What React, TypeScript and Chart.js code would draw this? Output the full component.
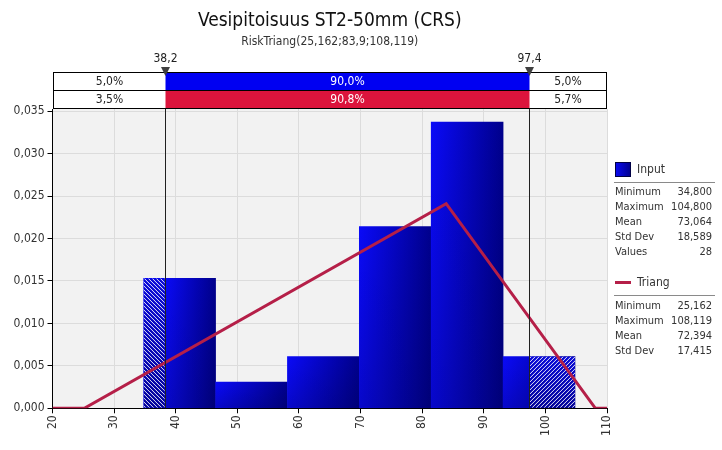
import React, { useEffect, useRef } from 'react';
import { Chart, registerables } from 'chart.js';

Chart.register(...registerables);

// ---- data ----
const binEdges = [34.8, 46.467, 58.133, 69.8, 81.467, 93.133, 104.8];
const binDensities = [0.0153, 0.0031, 0.0061, 0.0214, 0.0337, 0.0061];
const triangX = [20, 25.162, 83.9, 108.119, 110];
const triangY = [0, 0, 0.0241, 0, 0];
const markerValues = [38.2, 97.4];
const markerLabels = ['38,2', '97,4'];
const inputBand = ['5,0%', '90,0%', '5,0%'];
const triangBand = ['3,5%', '90,8%', '5,7%'];
const inputStatLabels = ['Minimum', 'Maximum', 'Mean', 'Std Dev', 'Values'];
const inputStatValues = ['34,800', '104,800', '73,064', '18,589', '28'];
const triangStatLabels = ['Minimum', 'Maximum', 'Mean', 'Std Dev'];
const triangStatValues = ['25,162', '108,119', '72,394', '17,415'];
const xMin = 20;
const xMax = 110;
const xStep = 10;
const yMax = 0.03525;
const yStep = 0.005;
const titleText = 'Vesipitoisuus ST2-50mm (CRS)';
const subtitleText = 'RiskTriang(25,162;83,9;108,119)';

// ---- styles ----
const FONT = "'DejaVu Sans Condensed', 'DejaVu Sans', sans-serif";
const TEXT = '#333333';
const BAND_BLUE = '#0000f2';
const BAND_RED = '#dc143c';
const LINE_RED = '#b51f48';
const PLOT_BG = '#f2f2f2';
const GRID = '#dcdcdc';

const binCenters = binDensities.map((_, i) => (binEdges[i] + binEdges[i + 1]) / 2);

function hatch(ctx: CanvasRenderingContext2D, x0: number, x1: number, y0: number, y1: number, dir: number) {
  ctx.save();
  ctx.beginPath();
  ctx.rect(x0, y0, x1 - x0, y1 - y0);
  ctx.clip();
  const g = ctx.createLinearGradient(0, y0, 0, y1);
  g.addColorStop(0, '#0808d8');
  g.addColorStop(1, '#00009a');
  ctx.fillStyle = g;
  ctx.fillRect(x0, y0, x1 - x0, y1 - y0);
  ctx.strokeStyle = 'rgba(255,255,255,0.9)';
  ctx.lineWidth = 1;
  const h = y1 - y0;
  const step = 4;
  for (let s = x0 - h - 10; s < x1 + h + 10; s += step) {
    ctx.beginPath();
    if (dir > 0) {
      ctx.moveTo(s, y1);
      ctx.lineTo(s + h, y0);
    } else {
      ctx.moveTo(s, y0);
      ctx.lineTo(s + h, y1);
    }
    ctx.stroke();
  }
  ctx.restore();
}

const decoPlugin = {
  id: 'deco',
  beforeDraw(chart: any) {
    const { ctx, chartArea: a } = chart;
    ctx.save();
    ctx.fillStyle = '#ffffff';
    ctx.fillRect(0, 0, chart.width, chart.height);
    ctx.fillStyle = PLOT_BG;
    ctx.fillRect(a.left, a.top, a.right - a.left, a.bottom - a.top);
    ctx.restore();
  },
  afterDatasetDraw(chart: any, args: any) {
    if (args.index !== 0) return;
    const { ctx } = chart;
    const meta = chart.getDatasetMeta(0);
    const xb = chart.scales.xb;
    ctx.save();
    meta.data.forEach((el: any) => {
      const p = el.getProps(['x', 'y', 'base', 'width'], true);
      const l = p.x - p.width / 2;
      const g = ctx.createLinearGradient(0, p.y, 0, p.base);
      g.addColorStop(0, 'rgba(0,0,40,0)');
      g.addColorStop(1, 'rgba(0,0,40,0.22)');
      ctx.fillStyle = g;
      ctx.fillRect(l, p.y, p.width, p.base - p.y);
    });
    const first = meta.data[0].getProps(['y', 'base'], true);
    hatch(ctx, xb.getPixelForValue(binEdges[0]), xb.getPixelForValue(markerValues[0]), first.y, first.base, -1);
    const lastIdx = binDensities.length - 1;
    const last = meta.data[lastIdx].getProps(['y', 'base'], true);
    hatch(ctx, xb.getPixelForValue(markerValues[1]), xb.getPixelForValue(binEdges[lastIdx + 1]), last.y, last.base, 1);
    ctx.restore();
  },
  afterDatasetsDraw(chart: any) {
    const { ctx, chartArea: a } = chart;
    const xs = chart.scales.x;
    ctx.save();
    ctx.strokeStyle = '#202020';
    ctx.lineWidth = 1;
    markerValues.forEach((v) => {
      const px = Math.round(xs.getPixelForValue(v)) + 0.5;
      ctx.beginPath();
      ctx.moveTo(px, 72.5);
      ctx.lineTo(px, a.bottom);
      ctx.stroke();
    });
    ctx.restore();
  },
  afterDraw(chart: any) {
    const { ctx, chartArea: a } = chart;
    const xs = chart.scales.x;
    const cx = (a.left + a.right) / 2;
    ctx.save();
    ctx.textAlign = 'center';
    ctx.textBaseline = 'middle';
    ctx.fillStyle = '#111';
    ctx.font = `19px ${FONT}`;
    ctx.fillText(titleText, cx, 21);
    ctx.fillStyle = TEXT;
    ctx.font = `12px ${FONT}`;
    ctx.fillText(subtitleText, cx, 42);

    // band
    const m0 = Math.round(xs.getPixelForValue(markerValues[0])) + 0.5;
    const m1 = Math.round(xs.getPixelForValue(markerValues[1])) + 0.5;
    const L = Math.round(a.left) + 0.5;
    const R = Math.round(a.right) - 0.5;
    const rows = [
      { y0: 72.5, y1: 90.5, vals: inputBand, color: BAND_BLUE },
      { y0: 90.5, y1: 108.5, vals: triangBand, color: BAND_RED },
    ];
    rows.forEach((r) => {
      ctx.fillStyle = '#fff';
      ctx.fillRect(L, r.y0, R - L, r.y1 - r.y0);
      ctx.fillStyle = r.color;
      ctx.fillRect(m0, r.y0, m1 - m0, r.y1 - r.y0);
      ctx.strokeStyle = '#000';
      ctx.lineWidth = 1;
      ctx.strokeRect(L, r.y0, R - L, r.y1 - r.y0);
      ctx.font = `12px ${FONT}`;
      const ym = (r.y0 + r.y1) / 2 + 0.5;
      ctx.fillStyle = '#222';
      ctx.fillText(r.vals[0], (L + m0) / 2, ym);
      ctx.fillStyle = '#fff';
      ctx.fillText(r.vals[1], (m0 + m1) / 2, ym);
      ctx.fillStyle = '#222';
      ctx.fillText(r.vals[2], (m1 + R) / 2, ym);
    });
    // markers
    [m0, m1].forEach((mx, i) => {
      ctx.fillStyle = '#404040';
      ctx.beginPath();
      ctx.moveTo(mx - 4.5, 67);
      ctx.lineTo(mx + 4.5, 67);
      ctx.lineTo(mx, 76);
      ctx.closePath();
      ctx.fill();
      ctx.fillStyle = '#222';
      ctx.font = `12px ${FONT}`;
      ctx.fillText(markerLabels[i], mx, 59);
    });

    // legend panel
    const lx = 615;
    const rx = 712;
    const sq = ctx.createLinearGradient(lx, 0, lx + 16, 0);
    sq.addColorStop(0, '#0a0af5');
    sq.addColorStop(1, '#00008c');
    ctx.fillStyle = sq;
    ctx.fillRect(lx, 162, 16, 15);
    ctx.strokeStyle = '#000044';
    ctx.strokeRect(lx + 0.5, 162.5, 15, 14);
    ctx.textAlign = 'left';
    ctx.fillStyle = TEXT;
    ctx.font = `12px ${FONT}`;
    ctx.fillText('Input', 637, 169.5);
    ctx.strokeStyle = '#8a8a8a';
    ctx.beginPath();
    ctx.moveTo(614, 182.5);
    ctx.lineTo(715, 182.5);
    ctx.stroke();
    ctx.font = `11px ${FONT}`;
    inputStatLabels.forEach((lab, i) => {
      const y = 192.5 + i * 15;
      ctx.textAlign = 'left';
      ctx.fillText(lab, lx, y);
      ctx.textAlign = 'right';
      ctx.fillText(inputStatValues[i], rx, y);
    });
    ctx.strokeStyle = LINE_RED;
    ctx.lineWidth = 3;
    ctx.beginPath();
    ctx.moveTo(lx, 282.5);
    ctx.lineTo(lx + 16, 282.5);
    ctx.stroke();
    ctx.textAlign = 'left';
    ctx.font = `12px ${FONT}`;
    ctx.fillText('Triang', 637, 282.5);
    ctx.strokeStyle = '#8a8a8a';
    ctx.lineWidth = 1;
    ctx.beginPath();
    ctx.moveTo(614, 295.5);
    ctx.lineTo(715, 295.5);
    ctx.stroke();
    ctx.font = `11px ${FONT}`;
    triangStatLabels.forEach((lab, i) => {
      const y = 306 + i * 15;
      ctx.textAlign = 'left';
      ctx.fillText(lab, lx, y);
      ctx.textAlign = 'right';
      ctx.fillText(triangStatValues[i], rx, y);
    });
    ctx.restore();
  },
};

export default function App() {
  const ref = useRef<HTMLCanvasElement>(null);
  useEffect(() => {
    const canvas = ref.current;
    if (!canvas) return;
    const barFill = (c: any) => {
      const chart = c.chart;
      const xs = chart.scales && chart.scales.xb;
      if (c.type !== 'data' || !xs) return '#0000c0';
      const i = c.dataIndex;
      let lv = binEdges[i];
      let rv = binEdges[i + 1];
      if (lv < markerValues[0] && rv > markerValues[0]) lv = markerValues[0];
      const l = xs.getPixelForValue(lv);
      const r = xs.getPixelForValue(rv);
      if (!isFinite(l) || !isFinite(r) || r <= l) return '#0000c0';
      const g = chart.ctx.createLinearGradient(l, 0, r, 0);
      g.addColorStop(0, '#0a0af8');
      g.addColorStop(1, '#00008c');
      return g;
    };
    const tickFont = { family: FONT, size: 12 };
    const chart = new Chart(canvas, {
      type: 'bar',
      data: {
        datasets: [
          {
            type: 'bar',
            label: 'Input',
            data: binCenters.map((x, i) => ({ x, y: binDensities[i] })),
            xAxisID: 'xb',
            yAxisID: 'y',
            barPercentage: 1,
            categoryPercentage: 1,
            grouped: false,
            backgroundColor: barFill,
            borderWidth: 0,
            order: 2,
          } as any,
          {
            type: 'line',
            label: 'Triang',
            data: triangX.map((x, i) => ({ x, y: triangY[i] })),
            xAxisID: 'x',
            yAxisID: 'y',
            borderColor: LINE_RED,
            borderWidth: 3,
            pointRadius: 0,
            fill: false,
            tension: 0,
            order: 1,
          } as any,
        ],
      },
      options: {
        animation: false,
        responsive: false,
        devicePixelRatio: 1,
        layout: { padding: { left: 0, top: 109, right: 115, bottom: 0 } },
        plugins: { legend: { display: false }, tooltip: { enabled: false }, title: { display: false } },
        scales: {
          x: {
            type: 'linear',
            position: 'bottom',
            min: xMin,
            max: xMax,
            offset: false,
            ticks: { stepSize: xStep, minRotation: 90, maxRotation: 90, autoSkip: false, color: TEXT, font: tickFont, padding: 2 },
            grid: { color: GRID, tickColor: '#000', tickLength: 5, offset: false },
            border: { color: '#000' },
            afterFit: (s: any) => { s.height = 41.7; },
          },
          xb: {
            type: 'linear',
            position: 'bottom',
            display: false,
            min: xMin,
            max: xMax,
            offset: false,
            grid: { offset: false },
            afterBuildTicks: (s: any) => { s.ticks = []; },
          },
          y: {
            type: 'linear',
            min: 0,
            max: yMax,
            ticks: {
              stepSize: yStep,
              includeBounds: false,
              color: TEXT,
              font: tickFont,
              padding: 3,
              callback: (v: any) => Number(v).toFixed(3).replace('.', ','),
            },
            afterBuildTicks: (s: any) => {
              s.ticks = s.ticks.filter((t: any) => Math.abs(t.value / yStep - Math.round(t.value / yStep)) < 1e-6);
            },
            grid: { color: GRID, tickColor: '#000', tickLength: 5 },
            border: { color: '#000' },
            afterFit: (s: any) => { s.width = 52.5; },
          },
        },
      } as any,
      plugins: [decoPlugin],
    });
    return () => chart.destroy();
  }, []);
  return (
    <div style={{ position: 'absolute', left: 0, top: 0, width: 722, height: 450, background: '#fff' }}>
      <canvas ref={ref} width={722} height={450} style={{ display: 'block', width: 722, height: 450 }} />
    </div>
  );
}
